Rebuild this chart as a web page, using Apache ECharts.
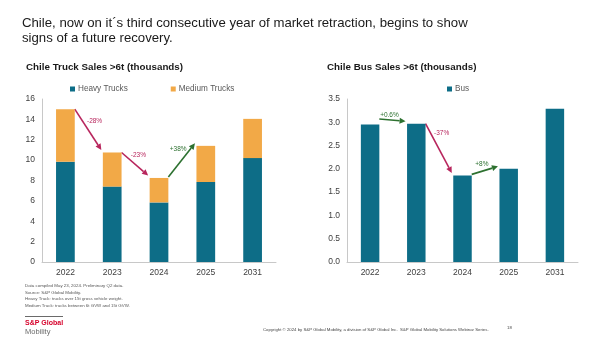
<!DOCTYPE html>
<html><head><meta charset="utf-8">
<script src="https://cdn.jsdelivr.net/npm/echarts@6/dist/echarts.min.js"></script>
<style>html,body{margin:0;padding:0;background:#fff}#c{width:602px;height:339px}</style>
</head><body><div id="c"></div>
<script>
// ---- data ----
const years = ['2022', '2023', '2024', '2025', '2031'];
const heavyTrucks = [9.85, 7.4, 5.85, 7.85, 10.2];
const mediumTrucks = [5.15, 3.35, 2.4, 3.55, 3.85];
const busSales = [2.95, 2.97, 1.86, 2.0, 3.29];
const truckAxis = { min: 0, max: 16, interval: 2 };
const busAxis = { min: 0, max: 3.5, interval: 0.5 };
const truckChangeLabels = ['-28%', '-23%', '+38%'];
const truckChangePairs = [[0, 1], [1, 2], [2, 3]];
const busChangeLabels = ['+0.6%', '-37%', '+8%'];
const busChangePairs = [[0, 1], [1, 2], [2, 3]];

// ---- styles ----
const TEAL = '#0d6d87', ORANGE = '#f2a947';
const RED = '#b8265d', GREEN = '#2d7130';
const FONT = 'Liberation Sans, Arial, sans-serif';
const axisCommon = {
  axisLine: { show: true, lineStyle: { color: '#c8c8c8', width: 1 } },
  axisTick: { show: false },
  splitLine: { show: false },
  axisLabel: { color: '#404040', fontSize: 8.5, fontFamily: FONT, margin: 7 }
};

const chart = echarts.init(document.getElementById('c'), null, { renderer: 'canvas' });
const totals = heavyTrucks.map((h, i) => h + mediumTrucks[i]);

chart.setOption({
  animation: false,
  backgroundColor: '#fff',
  legend: [
    { data: ['Heavy Trucks', 'Medium Trucks'], left: 65, top: 80, itemWidth: 5, itemHeight: 5, itemGap: 43, icon: 'rect',
      textStyle: { color: '#595959', fontSize: 8.2, fontFamily: FONT, padding: [0, 0, 0, -2] } },
    { data: ['Bus'], left: 442, top: 80, itemWidth: 5, itemHeight: 5, icon: 'rect',
      textStyle: { color: '#595959', fontSize: 8.2, fontFamily: FONT, padding: [0, 0, 0, -2] } }
  ],
  grid: [
    { left: 42, right: 326, top: 99, bottom: 77 },
    { left: 347, right: 24, top: 99, bottom: 77 }
  ],
  xAxis: [
    Object.assign({ type: 'category', data: years, gridIndex: 0 }, axisCommon, { axisLabel: Object.assign({}, axisCommon.axisLabel, { margin: 6 }) }),
    Object.assign({ type: 'category', data: years, gridIndex: 1 }, axisCommon, { axisLabel: Object.assign({}, axisCommon.axisLabel, { margin: 6 }) })
  ],
  yAxis: [
    Object.assign({ type: 'value', gridIndex: 0 }, truckAxis, axisCommon),
    Object.assign({ type: 'value', gridIndex: 1 }, busAxis, axisCommon,
      { axisLabel: Object.assign({}, axisCommon.axisLabel, { formatter: v => v.toFixed(1) }) })
  ],
  series: [
    { name: 'Heavy Trucks', type: 'bar', stack: 't', data: heavyTrucks, xAxisIndex: 0, yAxisIndex: 0,
      barCategoryGap: '60%', itemStyle: { color: TEAL } },
    { name: 'Medium Trucks', type: 'bar', stack: 't', data: mediumTrucks, xAxisIndex: 0, yAxisIndex: 0,
      barCategoryGap: '60%', itemStyle: { color: ORANGE } },
    { name: 'Bus', type: 'bar', data: busSales, xAxisIndex: 1, yAxisIndex: 1,
      barCategoryGap: '60%', itemStyle: { color: TEAL } }
  ]
});

// ---- annotations (arrows) computed through the axes ----
function arrow(p0, p1, color) {
  const dx = p1[0] - p0[0], dy = p1[1] - p0[1];
  const len = Math.sqrt(dx * dx + dy * dy);
  const ux = dx / len, uy = dy / len;
  const hl = 6, hw = 3;
  const bx = p1[0] - ux * hl, by = p1[1] - uy * hl;
  return [
    { type: 'line', shape: { x1: p0[0], y1: p0[1], x2: bx, y2: by }, style: { stroke: color, lineWidth: 1.6 }, silent: true },
    { type: 'polygon', shape: { points: [[p1[0], p1[1]], [bx - uy * hw, by + ux * hw], [bx + uy * hw, by - ux * hw]] },
      style: { fill: color }, silent: true }
  ];
}
function buildArrows(gridIndex, tops, pairs, labels, labelOffsets) {
  const els = [];
  const c0 = chart.convertToPixel({ gridIndex }, [0, 0]);
  const c1 = chart.convertToPixel({ gridIndex }, [1, 0]);
  const half = (c1[0] - c0[0]) * 0.4 / 2;
  pairs.forEach((pr, k) => {
    const a = chart.convertToPixel({ gridIndex }, [pr[0], tops[pr[0]]]);
    const b = chart.convertToPixel({ gridIndex }, [pr[1], tops[pr[1]]]);
    const up = tops[pr[1]] >= tops[pr[0]];
    const color = labels[k][0] === '+' ? GREEN : RED;
    const p0 = [a[0] + half, a[1] - (up ? 1 : 0)];
    const p1 = [b[0] - half - 1.5, b[1] - 2.5];
    els.push(...arrow(p0, p1, color));
    const mx = (p0[0] + p1[0]) / 2, my = (p0[1] + p1[1]) / 2;
    const off = labelOffsets[k];
    els.push({ type: 'text', x: mx + off[0], y: my + off[1], silent: true,
      style: { text: labels[k], fill: color, fontSize: 6.5, fontFamily: FONT, align: 'center', verticalAlign: 'middle' } });
  });
  return els;
}
const truckLabelOffsets = [[6.5, -8], [3.5, -8.5], [-3.5, -11]];
const busLabelOffsets = [[-3, -5], [3, -15], [-3, -6]];
const busTops = busSales.slice();
busTops[0] = busSales[0] + 0.12;

const graphics = [].concat(
  buildArrows(0, totals, truckChangePairs, truckChangeLabels, truckLabelOffsets),
  buildArrows(1, busTops, busChangePairs, busChangeLabels, busLabelOffsets)
);

// ---- texts ----
const txt = (x, y, text, size, color, weight, extra) => Object.assign({ type: 'text', x, y, silent: true,
  style: { text, fill: color, fontSize: size, fontFamily: FONT, fontWeight: weight || 'normal', verticalAlign: 'middle' } }, extra || {});
graphics.push(
  txt(22, 23, 'Chile, now on it´s third consecutive year of market retraction, begins to show', 13.2, '#1a1a1a'),
  txt(22, 38, 'signs of a future recovery.', 13.2, '#1a1a1a'),
  txt(26, 67, 'Chile Truck Sales >6t (thousands)', 9.8, '#1a1a1a', 'bold'),
  txt(327, 67, 'Chile Bus Sales >6t (thousands)', 9.8, '#1a1a1a', 'bold'),
  txt(25, 286, 'Data compiled May 23, 2024. Preliminary Q2 data.', 4.4, '#555'),
  txt(25, 292.5, 'Source: S&P Global Mobility.', 4.4, '#555'),
  txt(25, 299, 'Heavy Truck: trucks over 15t gross vehicle weight.', 4.4, '#555'),
  txt(25, 305.5, 'Medium Truck: trucks between 6t GVW and 15t GVW.', 4.4, '#555'),
  { type: 'line', shape: { x1: 25, y1: 316.5, x2: 63, y2: 316.5 }, style: { stroke: '#444', lineWidth: 0.8 }, silent: true },
  txt(25, 323.5, 'S&P Global', 7, '#d6002a', 'bold'),
  txt(25, 332, 'Mobility', 7.5, '#6b6b6b'),
  txt(263, 329.5, 'Copyright © 2024 by S&P Global Mobility, a division of S&P Global Inc.  S&P Global Mobility Solutions Webinar Series.', 4.3, '#444'),
  txt(507, 328, '18', 4.3, '#444')
);
chart.setOption({ graphic: { elements: graphics } });
</script>
</body></html>
